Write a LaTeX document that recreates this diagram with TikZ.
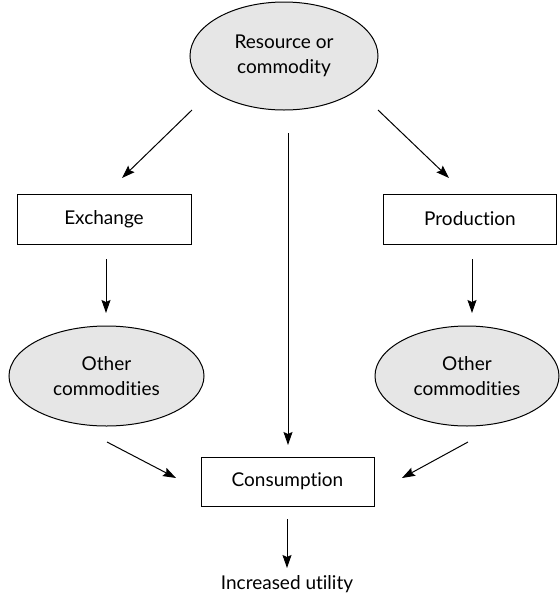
\documentclass[tikz,border=0pt]{standalone}
\usepackage{fontspec}
\setmainfont{Lato}[Ligatures={NoCommon}]
\usetikzlibrary{shapes.geometric,arrows.meta}
\definecolor{ovalfill}{HTML}{E6E6E6}
\tikzset{
  oval/.style={ellipse,draw,fill=ovalfill,line width=1pt,align=center,inner sep=0pt},
  boxnode/.style={rectangle,draw,line width=1pt,align=center,inner sep=0pt},
  arr/.style={-{Stealth[length=13pt,width=9pt,inset=2pt]},line width=1pt},
  lbl/.style={font=\fontsize{19}{25}\selectfont}
}
\begin{document}
\begin{tikzpicture}[x=1pt,y=-1pt]
\useasboundingbox (0,0) rectangle (560,598);
\node[oval,lbl,minimum width=188pt,minimum height=108pt] (res) at (284,56) {Resource or\\commodity};
\node[boxnode,lbl,minimum width=174pt,minimum height=50pt] (exch) at (104,219) {Exchange};
\node[boxnode,lbl,minimum width=173pt,minimum height=50pt] (prod) at (470,219) {Production};
\node[oval,lbl,minimum width=195pt,minimum height=100pt] (oth1) at (106.5,376) {Other\\commodities};
\node[oval,lbl,minimum width=184pt,minimum height=100pt] (oth2) at (467,376) {Other\\commodities};
\node[boxnode,lbl,minimum width=173pt,minimum height=49pt] (cons) at (287.5,481.5) {Consumption};
\node[lbl,inner sep=0pt] (util) at (287,584) {Increased utility};
% connector end points
\coordinate (a1s) at (192,110); \coordinate (a1e) at (122,178);
\coordinate (a2s) at (288,133); \coordinate (a2e) at (288,445);
\coordinate (a3s) at (378,110); \coordinate (a3e) at (449,178);
\coordinate (a4s) at (106,259); \coordinate (a4e) at (106,313);
\coordinate (a5s) at (472,259); \coordinate (a5e) at (472,313);
\coordinate (a6s) at (107,442); \coordinate (a6e) at (176,478);
\coordinate (a7s) at (468,442); \coordinate (a7e) at (402,478);
\coordinate (a8s) at (287,519); \coordinate (a8e) at (287,568);
\draw[arr] (a1s) -- (a1e);
\draw[arr] (a2s) -- (a2e);
\draw[arr] (a3s) -- (a3e);
\draw[arr] (a4s) -- (a4e);
\draw[arr] (a5s) -- (a5e);
\draw[arr] (a6s) -- (a6e);
\draw[arr] (a7s) -- (a7e);
\draw[arr] (a8s) -- (a8e);
\end{tikzpicture}
\end{document}
